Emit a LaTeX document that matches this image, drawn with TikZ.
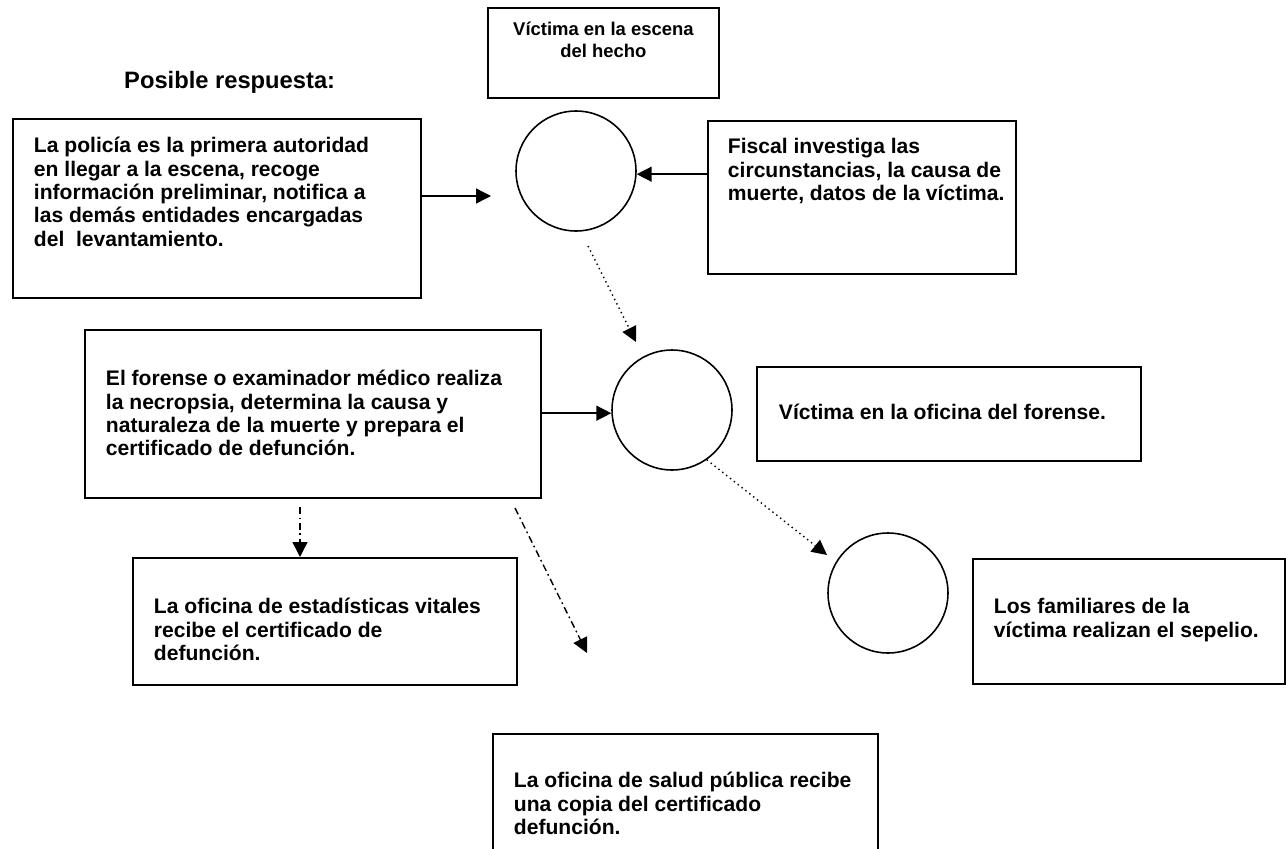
\documentclass[tikz,border=0pt]{standalone}
\usepackage{fontspec}
\setmainfont{Liberation Sans}
\usetikzlibrary{arrows.meta}
\newcommand{\caja}[5]{\parbox[c][#2][t]{#1}{\leftskip=#4\rightskip=-1cm plus 1fil\rule{0pt}{#3}#5}}
\begin{document}
\begin{tikzpicture}
  [x=0.02cm,y=-0.02cm,
   every node/.style={font=\bfseries\fontsize{12}{13.26}\selectfont},
   caja/.style={draw,line width=1.1pt,anchor=north west,inner sep=0pt},
   circulo/.style={draw,circle,line width=0.9pt,minimum size=2.4cm,inner sep=0pt},
   flecha/.style={-{Triangle[length=0.3cm,width=0.3cm]},line width=0.8pt}]
  \tikzstyle{punteada} = [flecha,dotted]
  \tikzstyle{rayapunto} = [flecha,dash pattern=on 4pt off 2pt on 1pt off 2pt]
  \useasboundingbox (0,0) rectangle (1286,849);

  \node[anchor=base west,font=\bfseries\fontsize{13.5}{15}\selectfont] (titulo) at (118,88) {Posible respuesta:};
  \node[caja,font=\bfseries\fontsize{10.5}{12.5}\selectfont] (escena) at (487,7)
    {\parbox[c][1.8cm][t]{4.62cm}{\centering\rule{0pt}{0.56cm}Víctima en la escena\\del hecho}};
  \node[caja] (policia) at (12,118)
    {\caja{8.16cm}{3.58cm}{0.68cm}{0.42cm}{La policía es la primera autoridad\\en llegar a la escena, recoge\\información preliminar, notifica a\\las demás entidades encargadas\\del\ \ levantamiento.}};
  \node[caja] (fiscal) at (707,120)
    {\caja{6.16cm}{3.06cm}{0.66cm}{0.4cm}{Fiscal investiga las\\circunstancias, la causa de\\muerte, datos de la víctima.}};
  \node[caja] (forense) at (84,329)
    {\caja{9.12cm}{3.36cm}{1.12cm}{0.42cm}{El forense o examinador médico realiza\\la necropsia, determina la causa y\\naturaleza de la muerte y prepara el\\certificado de defunción.}};
  \node[caja] (oficina) at (756,366)
    {\caja{7.68cm}{1.88cm}{1.06cm}{0.44cm}{Víctima en la oficina del forense.}};
  \node[caja] (familiares) at (972,558)
    {\caja{6.24cm}{2.5cm}{1.1cm}{0.42cm}{Los familiares de la\\víctima realizan el sepelio.}};
  \node[caja] (estadisticas) at (132,557)
    {\caja{7.68cm}{2.54cm}{1.12cm}{0.42cm}{La oficina de estadísticas vitales\\recibe el certificado de\\defunción.}};
  \node[caja] (salud) at (492,733)
    {\caja{7.7cm}{2.6cm}{1.08cm}{0.42cm}{La oficina de salud pública recibe\\una copia del certificado\\defunción.}};

  \node[circulo] (c1) at (576,171) {};
  \node[circulo] (c2) at (672,410) {};
  \node[circulo] (c3) at (888,593) {};

  \coordinate (p1) at (491,196);
  \coordinate (d1) at (588,246);
  \coordinate (d2) at (636,342);
  \coordinate (d3) at (827,555);
  \coordinate (r1) at (300,507);
  \coordinate (r2) at (515,508);
  \coordinate (r3) at (587,653);

  \draw[flecha] (policia.east |- p1) -- (p1);
  \draw[flecha] (fiscal.west |- c1.-3) -- (c1.-3);
  \draw[punteada] (d1) -- (d2);
  \draw[flecha] (forense.east |- c2.183) -- (c2.183);
  \draw[punteada] (c2.-55) -- (d3);
  \draw[rayapunto] (r1) -- (estadisticas.north -| r1);
  \draw[rayapunto] (r2) -- (r3);
\end{tikzpicture}
\end{document}
